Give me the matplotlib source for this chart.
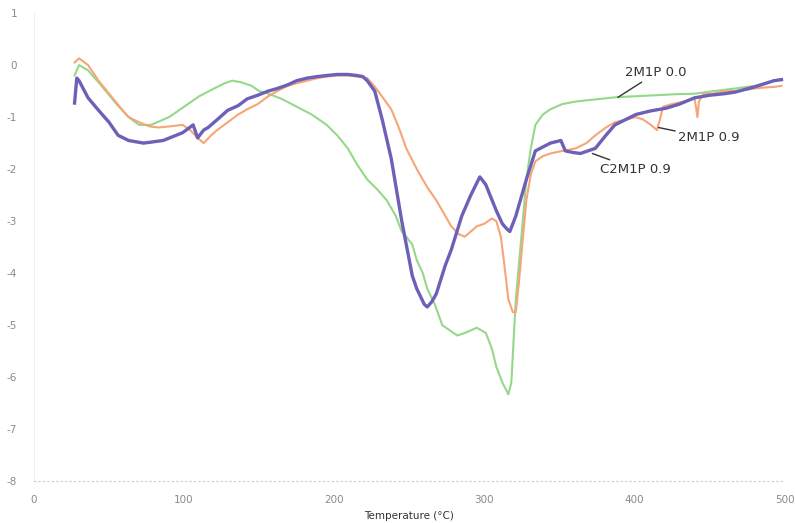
import matplotlib.pyplot as plt

# data (temperature in C, signal)
t_green = [27, 30, 36, 45, 55, 63, 70, 78, 90, 100, 110, 120, 127, 132, 138, 145, 150, 156,
           165, 175, 185, 195, 202, 209, 215, 222, 229, 235, 241, 245, 248, 252, 255, 259, 262,
           267, 272, 277, 282, 287, 291, 295, 301, 305, 308, 312, 316, 318, 321, 325, 328, 331,
           334, 339, 344, 352, 361, 374, 387, 400, 414, 427, 440, 453, 467, 480, 493, 498]
v_green = [-0.2, 0.0, -0.1, -0.4, -0.75, -1.0, -1.15, -1.15, -1.0, -0.8, -0.6, -0.45, -0.35, -0.3,
           -0.33, -0.4, -0.5, -0.55, -0.65, -0.8, -0.95, -1.15, -1.35, -1.6, -1.9, -2.2, -2.4,
           -2.6, -2.9, -3.2, -3.3, -3.45, -3.75, -4.0, -4.3, -4.6, -5.0, -5.1, -5.2, -5.15,
           -5.1, -5.05, -5.15, -5.45, -5.8, -6.1, -6.33, -6.1, -4.5, -3.2, -2.2, -1.6, -1.15,
           -0.95, -0.85, -0.75, -0.7, -0.66, -0.62, -0.6, -0.58, -0.56, -0.55, -0.5, -0.45, -0.4,
           -0.3, -0.27]

t_orange = [27, 30, 36, 43, 50, 57, 63, 70, 77, 83, 90, 99, 104, 109, 113, 118, 122, 129, 136,
            142, 149, 156, 162, 169, 175, 182, 189, 196, 202, 209, 215, 222, 228, 233, 238, 243,
            248, 255, 262, 268, 273, 278, 283, 287, 291, 295, 300, 305, 308, 311, 313, 316, 319,
            321, 323, 325, 328, 331, 334, 339, 344, 352, 361, 368, 374, 381, 387, 394, 401, 406,
            411, 415, 417, 419, 425, 433, 440, 441, 442, 443, 446, 453, 460, 467, 473, 480, 487,
            493, 498]
v_orange = [0.05, 0.13, 0.0, -0.3, -0.55, -0.8, -1.0, -1.1, -1.18, -1.2, -1.18, -1.15, -1.25,
            -1.4, -1.5, -1.35, -1.25, -1.1, -0.95, -0.85, -0.75, -0.6, -0.5, -0.4, -0.35, -0.3,
            -0.25, -0.22, -0.2, -0.2, -0.22, -0.25, -0.45, -0.65, -0.85, -1.2, -1.6, -2.0,
            -2.35, -2.6, -2.85, -3.1, -3.25, -3.3, -3.2, -3.1, -3.05, -2.95, -3.0, -3.3, -3.75,
            -4.5, -4.75, -4.75, -4.2, -3.55, -2.6, -2.1, -1.85, -1.75, -1.7, -1.65, -1.6, -1.5,
            -1.35, -1.2, -1.1, -1.05, -1.0, -1.05, -1.15, -1.25, -1.05, -0.8, -0.75, -0.7, -0.65,
            -0.8, -1.0, -0.7, -0.55, -0.55, -0.5, -0.5, -0.48, -0.45, -0.43, -0.42, -0.4]

t_purple = [27, 28.5, 30, 36, 43, 50, 56, 63, 73, 86, 99, 106, 109, 113, 116, 122, 129, 136,
            142, 149, 156, 162, 169, 175, 182, 189, 195, 202, 209, 215, 219, 222, 227, 232, 238,
            245, 248, 252, 255, 260, 262, 265, 268, 274, 278, 285, 291, 297, 301, 308, 312, 315,
            317, 321, 328, 334, 344, 351, 354, 359, 364, 374, 381, 387, 394, 401, 411, 421, 430,
            440, 450, 460, 467, 480, 493, 498]
v_purple = [-0.73, -0.25, -0.3, -0.63, -0.87, -1.1, -1.35, -1.45, -1.5, -1.45, -1.3, -1.15,
            -1.4, -1.25, -1.2, -1.05, -0.87, -0.78, -0.65, -0.58, -0.5, -0.45, -0.38, -0.3,
            -0.25, -0.22, -0.2, -0.18, -0.18, -0.2, -0.22, -0.3, -0.5, -1.05, -1.8, -3.0, -3.45,
            -4.05, -4.3, -4.6, -4.65, -4.55, -4.4, -3.85, -3.55, -2.9, -2.5, -2.15, -2.3, -2.8,
            -3.05, -3.15, -3.2, -2.9, -2.2, -1.65, -1.5, -1.45, -1.65, -1.68, -1.7, -1.6, -1.35,
            -1.15, -1.05, -0.95, -0.88, -0.83, -0.75, -0.63, -0.58, -0.55, -0.52, -0.42, -0.3,
            -0.28]

yticks = list(range(-8, 2))
xticks = [0, 100, 200, 300, 400, 500]

fig = plt.figure(figsize=(7.95, 5.23), dpi=100)
ax = fig.add_axes([0.0428, 0.080, 0.944, 0.895])

ax.plot(t_green, v_green, color='#96d88a', lw=1.5)
ax.plot(t_orange, v_orange, color='#f7a577', lw=1.5)
ax.plot(t_purple, v_purple, color='#6c60b8', lw=2.4)

ax.set_xlim(0, 500)
ax.set_ylim(-8, 1)
ax.set_xticks(xticks)
ax.set_yticks(yticks)
ax.set_yticklabels([str(v) for v in yticks])
ax.tick_params(length=0, labelsize=7.5, labelcolor='#8a8a8a')
ax.tick_params(axis='x', pad=10)
ax.tick_params(axis='y', pad=12)

for s in ['top', 'right']:
    ax.spines[s].set_visible(False)
ax.spines['left'].set_color('#eeeeee')
ax.spines['bottom'].set_color('#c8c8c8')
ax.spines['bottom'].set_linestyle((0, (1, 3)))

ax.set_xlabel('Temperature (°C)', fontsize=7.5, color='#333333', labelpad=4)

# labels with leader lines
ax.annotate('2M1P 0.0', xy=(389, -0.62), xytext=(394, -0.15), fontsize=9.5, color='#333333',
            va='center', arrowprops=dict(arrowstyle='-', color='#333333', lw=1, shrinkA=0, shrinkB=0))
ax.annotate('2M1P 0.9', xy=(416, -1.2), xytext=(429, -1.4), fontsize=9.5, color='#333333',
            va='center', arrowprops=dict(arrowstyle='-', color='#333333', lw=1, shrinkA=0, shrinkB=0))
ax.annotate('C2M1P 0.9', xy=(372, -1.7), xytext=(377, -2.0), fontsize=9.5, color='#333333',
            va='center', arrowprops=dict(arrowstyle='-', color='#333333', lw=1, shrinkA=0, shrinkB=0))

fig.savefig('out.png', dpi=100)
